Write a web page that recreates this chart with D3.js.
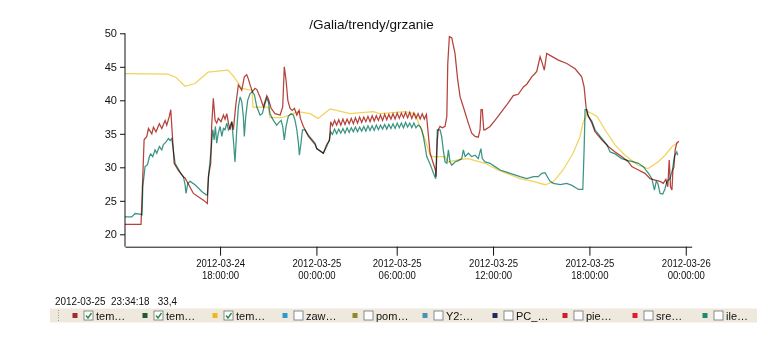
<!DOCTYPE html>
<html>
<head>
<meta charset="utf-8">
<script src="https://cdn.jsdelivr.net/npm/d3@7"></script>
<style>
  body { margin: 0; background: #fff; }
  svg { display: block; font-family: "Liberation Sans Narrow", "Arial Narrow", "Liberation Sans", sans-serif; }
  .trend { fill: none; stroke-width: 1.25; mix-blend-mode: multiply; }
</style>
</head>
<body>
<svg id="chart" width="778" height="349"></svg>
<script>
// time values: hours since 2012-03-24 00:00 UTC (axis labels are shown in Warsaw local time)
const title = "/Galia/trendy/grzanie";
const yTicks = [20, 25, 30, 35, 40, 45, 50];
const xTickHours = [17, 23, 28, 34, 40, 46];
const xTickDates = ["2012-03-24", "2012-03-25", "2012-03-25", "2012-03-25", "2012-03-25", "2012-03-26"];
const xTickTimes = ["18:00:00", "00:00:00", "06:00:00", "12:00:00", "18:00:00", "00:00:00"];
const readout = ["2012-03-25", "23:34:18", "33,4"];

const legendNames = ["tem…", "tem…", "tem…", "zaw…", "pom…", "Y2:…", "PC_…", "pie…", "sre…", "ile…"];
const legendColors = ["#9b2d2d", "#1d5b3b", "#f2b81a", "#2b9ad2", "#8c8a2c", "#4b93b3", "#1f2a5c", "#cc1f2a", "#de1d33", "#1f8a72"];
const legendChecked = [true, true, true, false, false, false, false, false, false, false];

// red trace
const tempA = [
  [11.08, 21.5], [12.02, 21.5], [12.08, 21.5], [12.27, 34.1], [12.44, 34.6], [12.54, 35.8], [12.75, 35.0],
  [12.85, 36.0], [13.01, 35.3], [13.22, 36.5], [13.37, 35.8], [13.58, 37.0], [13.68, 36.3], [13.84, 37.6],
  [13.93, 38.6], [14.14, 30.6], [14.38, 29.6], [14.70, 28.6], [14.82, 28.4], [15.34, 26.1], [15.96, 25.1],
  [16.21, 24.6], [16.27, 28.6], [16.42, 30.6], [16.48, 36.3], [16.58, 40.3], [16.69, 37.0], [16.79, 36.6],
  [16.89, 37.3], [17.06, 36.8], [17.21, 37.8], [17.31, 37.2], [17.42, 38.0], [17.52, 36.6], [17.62, 35.6],
  [17.73, 36.8], [17.83, 35.6], [17.98, 39.3], [18.14, 42.3], [18.25, 41.9], [18.35, 41.5], [18.51, 43.5],
  [18.66, 43.8], [18.76, 43.2], [18.87, 42.3], [19.01, 41.3], [19.18, 41.8], [19.29, 41.6], [19.49, 40.5],
  [19.70, 39.0], [19.91, 40.7], [20.01, 40.2], [20.18, 38.8], [20.42, 38.0], [20.74, 37.8], [20.90, 39.0],
  [21.00, 45.0], [21.11, 43.0], [21.22, 40.0], [21.36, 38.8], [21.50, 38.5], [21.63, 38.8], [21.78, 37.8],
  [21.92, 38.5], [22.00, 37.3], [22.19, 36.1], [22.50, 34.6], [22.92, 33.4], [23.02, 32.8], [23.43, 32.1],
  [23.64, 33.4], [23.81, 34.0], [23.89, 36.8],
  [24.00, 36.2], [24.13, 37.0], [24.26, 36.3], [24.39, 37.1], [24.52, 36.3], [24.65, 37.2], [24.78, 36.4],
  [24.91, 37.2], [25.04, 36.5], [25.17, 37.3], [25.30, 36.5], [25.43, 37.4], [25.56, 36.6], [25.69, 37.5],
  [25.82, 36.7], [25.95, 37.5], [26.08, 36.8], [26.21, 37.6], [26.34, 36.8], [26.47, 37.7], [26.60, 36.9],
  [26.73, 37.7], [26.86, 37.0], [26.99, 37.8], [27.12, 37.0], [27.25, 37.9], [27.38, 37.1], [27.51, 37.9],
  [27.64, 37.2], [27.77, 38.0], [27.90, 37.2], [28.03, 38.1], [28.16, 37.3], [28.29, 38.1], [28.42, 37.4],
  [28.55, 38.2], [28.68, 37.4], [28.81, 38.2], [28.94, 37.3], [29.07, 38.1], [29.20, 37.3], [29.33, 38.0],
  [29.46, 37.2], [29.59, 38.0], [29.72, 37.2], [29.85, 37.9],
  [30.08, 32.1], [30.25, 30.8], [30.41, 29.6], [30.45, 28.6], [30.53, 34.1], [30.59, 35.6], [30.70, 36.1],
  [30.84, 35.9], [31.01, 36.1], [31.12, 37.6], [31.18, 45.5], [31.28, 49.5], [31.43, 49.3], [31.63, 47.0],
  [31.80, 43.0], [31.95, 40.5], [32.15, 39.0], [32.46, 36.6], [32.67, 35.1], [32.88, 34.6], [33.08, 34.5],
  [33.19, 35.6], [33.25, 38.6], [33.33, 38.6], [33.42, 35.6], [33.50, 35.6], [33.81, 36.1], [34.12, 37.0],
  [34.44, 38.0], [34.85, 39.3], [35.26, 40.7], [35.57, 40.9], [35.89, 42.0], [36.10, 42.4], [36.41, 43.5],
  [36.61, 44.0], [36.72, 44.3], [36.93, 46.5], [37.03, 45.8], [37.19, 44.5], [37.34, 47.0], [37.55, 46.7],
  [38.07, 46.0], [38.59, 45.5], [39.11, 44.7], [39.52, 43.5], [39.67, 42.0], [39.79, 39.0], [39.87, 38.0],
  [40.15, 36.6], [40.35, 35.3], [40.77, 34.1], [41.18, 33.1], [41.60, 32.3], [42.01, 31.6], [42.43, 30.8],
  [42.64, 30.1], [43.05, 29.6], [43.46, 29.1], [43.78, 28.3], [44.09, 28.1], [44.40, 27.9], [44.60, 27.6],
  [44.76, 28.2], [44.88, 27.1], [44.97, 31.1], [45.05, 27.1], [45.14, 26.6], [45.20, 29.6], [45.26, 30.0],
  [45.34, 32.6], [45.44, 33.6], [45.57, 33.9]
];

// teal trace
const tempB = [
  [11.08, 22.6], [11.50, 22.6], [11.71, 23.1], [12.02, 23.0], [12.14, 22.9], [12.19, 27.1], [12.33, 30.1],
  [12.48, 30.4], [12.60, 31.6], [12.68, 32.0], [12.81, 31.6], [12.95, 32.6], [13.06, 32.1], [13.22, 33.1],
  [13.37, 32.6], [13.47, 33.4], [13.64, 33.8], [13.78, 34.3], [13.89, 34.0], [13.99, 34.3], [14.05, 33.3],
  [14.20, 30.6], [14.51, 29.3], [14.72, 28.6], [14.82, 27.4], [14.88, 26.1], [14.99, 27.6], [15.13, 27.9],
  [15.44, 27.4], [15.86, 26.4], [16.13, 25.9], [16.21, 25.9], [16.30, 29.1], [16.42, 32.1], [16.55, 35.6],
  [16.63, 34.1], [16.71, 36.1], [16.79, 33.6], [16.89, 35.1], [17.00, 36.1], [17.11, 34.6], [17.21, 35.8],
  [17.31, 35.6], [17.42, 36.6], [17.52, 35.6], [17.62, 36.1], [17.73, 36.8], [17.83, 34.1], [17.93, 30.8],
  [18.04, 35.6], [18.14, 39.0], [18.25, 40.5], [18.35, 39.8], [18.45, 37.6], [18.51, 34.6], [18.60, 37.6],
  [18.72, 40.0], [18.87, 41.0], [19.01, 41.3], [19.14, 40.8], [19.29, 39.0], [19.49, 37.8], [19.63, 38.0],
  [19.80, 39.5], [19.91, 40.3], [20.01, 39.8], [20.11, 38.0], [20.32, 37.0], [20.53, 36.3], [20.63, 36.6],
  [20.80, 37.0], [20.90, 36.1], [21.00, 34.1], [21.11, 36.1], [21.25, 37.6], [21.42, 38.0], [21.56, 37.8],
  [21.67, 37.0], [21.78, 35.6], [21.88, 33.6], [21.94, 31.8], [22.04, 33.6], [22.13, 35.6], [22.29, 35.6],
  [22.50, 34.8], [22.92, 33.6], [23.02, 32.8], [23.43, 32.1], [23.64, 33.1], [23.81, 34.1], [23.89, 35.3],
  [24.00, 34.9], [24.13, 35.7], [24.26, 35.0], [24.39, 35.7], [24.52, 35.1], [24.65, 35.8], [24.78, 35.1],
  [24.91, 35.9], [25.04, 35.2], [25.17, 35.9], [25.30, 35.3], [25.43, 36.0], [25.56, 35.3], [25.69, 36.0],
  [25.82, 35.4], [25.95, 36.1], [26.08, 35.4], [26.21, 36.2], [26.34, 35.5], [26.47, 36.2], [26.60, 35.5],
  [26.73, 36.3], [26.86, 35.6], [26.99, 36.3], [27.12, 35.7], [27.25, 36.4], [27.38, 35.7], [27.51, 36.4],
  [27.64, 35.8], [27.77, 36.5], [27.90, 35.8], [28.03, 36.6], [28.16, 35.9], [28.29, 36.6], [28.42, 35.9],
  [28.55, 36.7], [28.68, 36.0], [28.81, 36.6], [28.94, 35.9], [29.07, 36.6], [29.20, 35.9], [29.33, 36.3],
  [29.45, 36.1], [29.56, 35.6], [29.66, 34.6], [29.77, 33.1], [29.87, 31.6], [30.02, 30.8], [30.14, 30.1],
  [30.29, 29.1], [30.43, 28.3], [30.53, 35.6], [30.70, 35.6], [30.80, 34.6], [30.90, 32.6], [31.01, 30.8],
  [31.12, 30.6], [31.22, 32.6], [31.32, 30.8], [31.43, 30.3], [31.63, 30.8], [31.84, 31.0], [32.05, 31.3],
  [32.15, 32.6], [32.26, 31.6], [32.46, 32.1], [32.67, 31.6], [32.88, 31.8], [33.08, 31.3], [33.24, 32.8],
  [33.33, 31.3], [33.50, 30.8], [33.81, 30.6], [34.12, 30.1], [34.44, 29.6], [35.07, 29.1], [35.68, 28.6],
  [36.10, 28.3], [36.51, 28.6], [36.82, 28.6], [37.03, 29.1], [37.24, 29.2], [37.38, 28.6], [37.55, 27.9],
  [37.76, 27.6], [38.18, 27.4], [38.59, 27.6], [38.91, 27.3], [39.32, 26.7], [39.59, 26.7], [39.67, 32.6],
  [39.73, 38.6], [39.84, 38.6], [39.93, 37.6], [40.15, 36.9], [40.35, 35.6], [40.77, 34.3], [41.08, 33.4],
  [41.29, 32.3], [41.60, 32.0], [42.01, 31.3], [42.43, 31.0], [42.74, 30.8], [43.05, 30.6], [43.36, 30.1],
  [43.68, 29.1], [43.89, 28.3], [44.05, 26.6], [44.16, 27.9], [44.26, 27.6], [44.40, 26.1], [44.57, 26.0],
  [44.71, 26.8], [44.82, 27.9], [45.02, 28.3], [45.17, 29.6], [45.29, 31.6], [45.44, 32.3], [45.50, 31.8]
];

// yellow trace
const tempC = [
  [11.08, 44.0], [13.76, 43.9], [14.26, 43.4], [14.82, 42.1], [15.44, 42.5], [16.25, 44.2], [17.00, 44.4],
  [17.50, 44.5], [17.87, 43.5], [18.35, 41.8], [18.74, 41.6], [18.99, 41.5], [19.05, 39.0], [19.99, 39.0],
  [20.11, 37.4], [20.86, 37.4], [21.86, 38.3], [22.60, 38.0], [23.10, 37.3], [23.85, 38.7], [25.10, 38.0],
  [26.53, 38.3], [26.96, 38.0], [28.52, 38.3], [29.14, 38.0], [29.45, 36.1], [29.77, 34.1], [30.08, 31.8],
  [30.20, 31.6], [31.01, 31.6], [31.20, 30.8], [31.82, 31.1], [32.44, 31.3], [32.88, 31.0], [33.50, 30.6],
  [34.31, 29.6], [35.68, 28.3], [36.49, 27.9], [37.24, 27.4], [37.74, 27.8], [38.36, 29.6], [38.98, 32.1],
  [39.42, 34.6], [39.60, 36.6], [39.92, 38.3], [40.48, 37.6], [40.97, 35.6], [41.60, 33.3], [42.22, 31.8],
  [43.03, 30.3], [43.65, 29.8], [44.27, 30.8], [44.71, 31.8], [45.15, 33.1], [45.46, 33.6]
];

const T0 = Date.UTC(2012, 2, 24);
const toDate = h => new Date(T0 + h * 36e5);

const svg = d3.select("#chart");

const x = d3.scaleUtc()
  .domain([toDate(11.08), toDate(46.37)])
  .range([125, 691.7]);

const y = d3.scaleLinear()
  .domain([18.15, 50])
  .range([246.7, 33.3]);

// title
svg.append("text")
  .attr("x", 371.5)
  .attr("y", 29)
  .attr("text-anchor", "middle")
  .attr("font-size", 13.5)
  .attr("fill", "#111")
  .text(title);

// axes
const yAxis = svg.append("g")
  .attr("transform", "translate(125,0)")
  .call(d3.axisLeft(y).tickValues(yTicks).tickSize(5).tickSizeOuter(0).tickPadding(3));
yAxis.attr("font-family", null);
yAxis.selectAll("text").attr("font-size", 11).attr("fill", "#111");
yAxis.select(".domain").attr("d", `M0,${y(50)}V${y.range()[0]}`);

const xAxis = svg.append("g")
  .attr("transform", "translate(0,246.7)")
  .call(d3.axisBottom(x)
    .tickValues(xTickHours.map(toDate))
    .tickSize(9)
    .tickSizeOuter(0)
    .tickFormat(""));
xAxis.attr("font-family", null);

// two-line labels, squeezed a bit to mimic the narrow face of the original
xAxis.selectAll(".tick text")
  .attr("font-size", 11)
  .attr("fill", "#111")
  .attr("y", null)
  .attr("dy", null)
  .attr("transform", "scale(0.87,1)")
  .each(function(d, i) {
    const t = d3.select(this);
    t.append("tspan").attr("x", 0).attr("y", 20).text(xTickDates[i]);
    t.append("tspan").attr("x", 0).attr("y", 32.5).text(xTickTimes[i]);
  });

svg.selectAll(".domain, .tick line").attr("stroke", "#111");

// trend lines
const line = d3.line()
  .x(d => x(toDate(d[0])))
  .y(d => y(d[1]));

const traces = [
  { data: tempC, color: "#f1d45c" },
  { data: tempB, color: "#3b9484" },
  { data: tempA, color: "#b5423b" }
];

svg.append("g")
  .selectAll("path")
  .data(traces)
  .enter()
  .append("path")
  .attr("class", "trend")
  .attr("stroke", d => d.color)
  .attr("d", d => line(d.data));

// readout of the last sample
svg.append("text")
  .attr("transform", "translate(55,305) scale(0.9,1)")
  .attr("font-size", 11)
  .attr("fill", "#111")
  .attr("xml:space", "preserve")
  .text(readout[0] + "  " + readout[1] + "   " + readout[2]);

// legend strip
const legend = svg.append("g");

legend.append("rect")
  .attr("x", 50)
  .attr("y", 308.5)
  .attr("width", 707)
  .attr("height", 14)
  .attr("fill", "#efe9dd");

legend.append("line")
  .attr("x1", 58.5).attr("x2", 58.5)
  .attr("y1", 310).attr("y2", 321)
  .attr("stroke", "#999")
  .attr("stroke-dasharray", "1,1.5");

const lx = d3.scalePoint()
  .domain(d3.range(legendNames.length))
  .range([75, 705]);

const item = legend.selectAll(".item")
  .data(legendNames)
  .enter()
  .append("g")
  .attr("class", "item")
  .attr("transform", (d, i) => `translate(${lx(i)},315.5)`);

item.append("rect")
  .attr("x", -2.5).attr("y", -2.5)
  .attr("width", 5).attr("height", 5)
  .attr("fill", (d, i) => legendColors[i]);

item.append("rect")
  .attr("x", 9).attr("y", -4.5)
  .attr("width", 9).attr("height", 9)
  .attr("fill", "#fff")
  .attr("stroke", "#7a7f86")
  .attr("stroke-width", 0.9);

item.filter((d, i) => legendChecked[i])
  .append("path")
  .attr("d", "M11,0 L13,2.5 L16.5,-2.5")
  .attr("fill", "none")
  .attr("stroke", "#2e8b3e")
  .attr("stroke-width", 1.4);

item.append("text")
  .attr("x", 21)
  .attr("y", 4)
  .attr("font-size", 11)
  .attr("fill", "#111")
  .text(d => d);
</script>
</body>
</html>
